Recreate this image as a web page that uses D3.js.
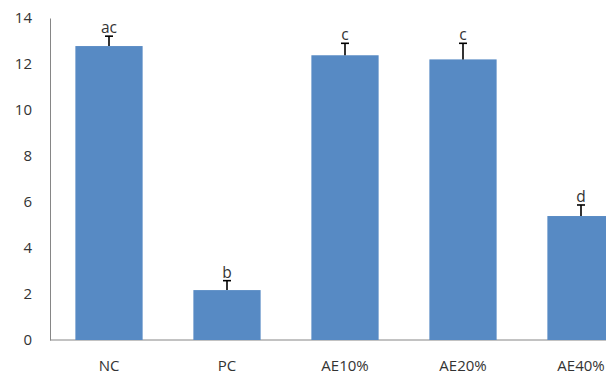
<!DOCTYPE html>
<html>
<head>
<meta charset="utf-8">
<script src="https://cdn.jsdelivr.net/npm/d3@7"></script>
<style>
  body { margin: 0; background: #fff; }
  text { font-family: "Open Sans", "Liberation Sans", sans-serif; fill: #333; }
</style>
</head>
<body>
<div id="chart"></div>
<script>
const categories = ["NC", "PC", "AE10%", "AE20%", "AE40%"];
const values = [12.78, 2.17, 12.38, 12.2, 5.39];
const errors = [0.43, 0.41, 0.52, 0.7, 0.48];
const letters = ["ac", "b", "c", "c", "d"];
const yTicks = [0, 2, 4, 6, 8, 10, 12, 14];

const margin = { top: 18, right: 0, bottom: 38, left: 50 },
    width = 606 - margin.left - margin.right,
    height = 378 - margin.top - margin.bottom;

const svg = d3.select("#chart")
    .append("svg")
    .attr("width", 606)
    .attr("height", 378);

const g = svg.append("g")
    .attr("transform", `translate(${margin.left}, ${margin.top})`);

// band of 118px per category, last one runs off the right edge
const x = d3.scaleBand()
    .domain(categories)
    .range([0, 590])
    .paddingInner(0.43)
    .paddingOuter(0.215);

const y = d3.scaleLinear()
    .domain([0, 14])
    .range([height, 0]);

// Y axis
const yAxis = g.append("g")
    .call(d3.axisLeft(y).tickValues(yTicks).tickSize(0).tickPadding(18));
yAxis.select(".domain").attr("stroke", "#868686");
yAxis.selectAll("text")
    .style("font-size", "15px")
    .attr("fill", "#333");

// baseline
g.append("line")
    .attr("x1", 0)
    .attr("x2", width)
    .attr("y1", y(0))
    .attr("y2", y(0))
    .attr("stroke", "#868686");

// X labels
g.selectAll(".xlab")
    .data(categories)
    .enter()
    .append("text")
    .attr("class", "xlab")
    .attr("x", d => x(d) + x.bandwidth() / 2)
    .attr("y", height + 31)
    .attr("text-anchor", "middle")
    .style("font-size", "15px")
    .text(d => d);

const bars = g.selectAll(".bar")
    .data(categories)
    .enter()
    .append("g")
    .classed("bar", true);

bars.append("rect")
    .attr("x", d => x(d))
    .attr("y", (d, i) => y(values[i]))
    .attr("width", x.bandwidth())
    .attr("height", (d, i) => y(0) - y(values[i]))
    .attr("fill", "#578ac4");

// error bars (upper only)
bars.append("line")
    .attr("x1", d => x(d) + x.bandwidth() / 2)
    .attr("x2", d => x(d) + x.bandwidth() / 2)
    .attr("y1", (d, i) => y(values[i]))
    .attr("y2", (d, i) => y(values[i] + errors[i]))
    .attr("stroke", "#000")
    .attr("stroke-width", 1.6);

bars.append("line")
    .attr("x1", d => x(d) + x.bandwidth() / 2 - 4)
    .attr("x2", d => x(d) + x.bandwidth() / 2 + 4)
    .attr("y1", (d, i) => y(values[i] + errors[i]))
    .attr("y2", (d, i) => y(values[i] + errors[i]))
    .attr("stroke", "#000")
    .attr("stroke-width", 1.6);

bars.append("text")
    .attr("x", d => x(d) + x.bandwidth() / 2)
    .attr("y", (d, i) => y(values[i] + errors[i]) - 3)
    .attr("text-anchor", "middle")
    .style("font-size", "15.5px")
    .text((d, i) => letters[i]);
</script>
</body>
</html>
